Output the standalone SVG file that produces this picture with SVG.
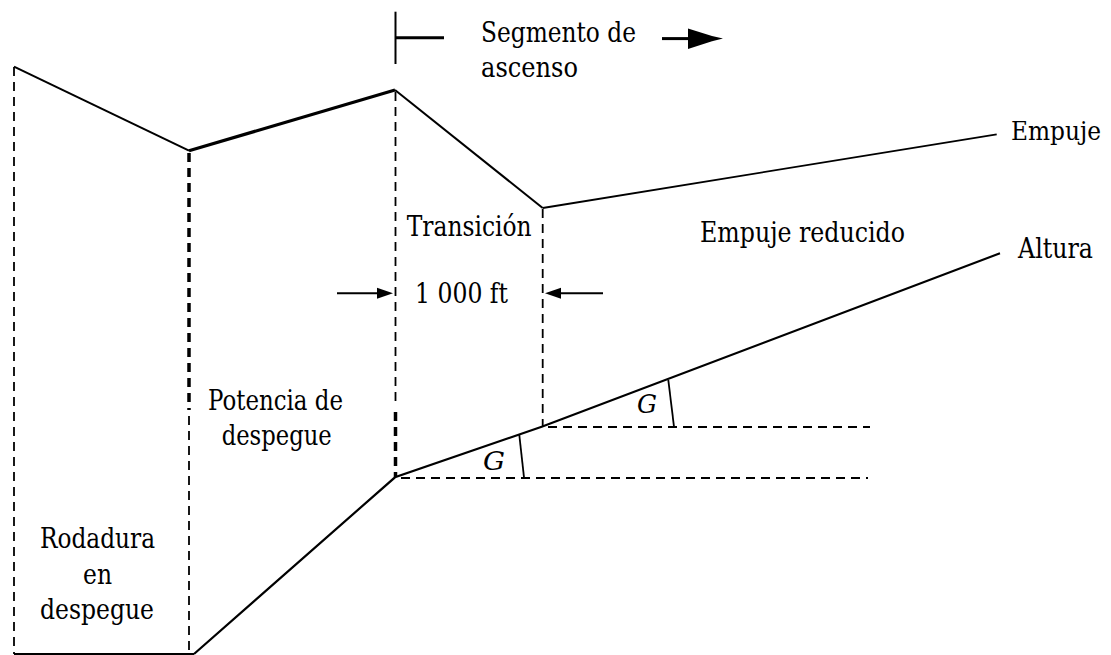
<svg xmlns="http://www.w3.org/2000/svg" width="1111" height="655" viewBox="0 0 1111 655">
<style>
  .t { font-family: 'DejaVu Serif', serif; font-size: 28px; fill: #000; }
  .g { font-style: italic; font-size: 26px; }
  .solid { fill: none; stroke: #000; stroke-linejoin: miter; stroke-linecap: butt; }
  .dash { fill: none; stroke: #000; stroke-width: 1.8; stroke-dasharray: 9 6; }
  .dashh { fill: none; stroke: #000; stroke-width: 1.8; stroke-dasharray: 9 6; }
  .dashthick { fill: none; stroke: #000; stroke-width: 3.5; stroke-dasharray: 9 6; }
</style>
<rect width="1111" height="655" fill="#fff"/>

<g id="connectors">
  <polyline class="solid" stroke-width="2" points="14,66.7 189,150.7"/>
  <polyline class="solid" stroke-width="3.2" points="189,150.7 395,90"/>
  <polyline class="solid" stroke-width="2" points="395,90 542.7,208"/>
  <polyline class="solid" stroke-width="1.8" points="542.7,208 996.7,134.3"/>
  <polyline class="solid" stroke-width="1.8" points="14,654 194,654"/>
  <polyline class="solid" stroke-width="2.2" points="194,654 395,477.3 541.7,426.7 1000,253.3"/>
  <line class="dash" x1="14" y1="67" x2="14" y2="654"/>
  <line class="dashthick" x1="189" y1="153" x2="189" y2="410"/>
  <line class="dash" x1="189" y1="416" x2="189" y2="654"/>
  <line class="dash" x1="395.5" y1="92" x2="395.5" y2="406"/>
  <line class="dashthick" x1="395.5" y1="412" x2="395.5" y2="477"/>
  <line class="dash" x1="542.7" y1="209" x2="542.7" y2="426"/>
  <line class="dashh" x1="401" y1="478" x2="868" y2="478"/>
  <line class="dashh" x1="548" y1="427" x2="870" y2="427"/>
  <line class="solid" stroke-width="1.8" x1="519.3" y1="435" x2="524" y2="477.3"/>
  <line class="solid" stroke-width="1.8" x1="668.3" y1="380" x2="674" y2="426.7"/>
  <line class="solid" stroke-width="2" x1="395.5" y1="11.7" x2="395.5" y2="64"/>
  <line class="solid" stroke-width="3" x1="395.5" y1="37.7" x2="444" y2="37.7"/>
  <line class="solid" stroke-width="3" x1="662" y1="38.6" x2="692" y2="38.6"/>
  <polygon points="688,28.5 712,36 723,38.6 712,41.2 688,49" fill="#000"/>
  <line class="solid" stroke-width="2" x1="337" y1="293.3" x2="380" y2="293.3"/>
  <polygon points="377,287.8 393,293.3 377,298.8" fill="#000"/>
  <line class="solid" stroke-width="2" x1="558" y1="293.3" x2="603" y2="293.3"/>
  <polygon points="561,287.8 545,293.3 561,298.8" fill="#000"/>
</g>

<g id="label-segmento">
  <text class="t" x="481" y="41.7" textLength="155" lengthAdjust="spacingAndGlyphs">Segmento de</text>
  <text class="t" x="481" y="77.3" textLength="97" lengthAdjust="spacingAndGlyphs">ascenso</text>
</g>
<g id="label-empuje"><text class="t" x="1011" y="140" style="font-size:26px" textLength="90" lengthAdjust="spacingAndGlyphs">Empuje</text></g>
<g id="label-altura"><text class="t" x="1018" y="258" textLength="75" lengthAdjust="spacingAndGlyphs">Altura</text></g>
<g id="label-transicion"><text class="t" x="406.7" y="235.7" textLength="125" lengthAdjust="spacingAndGlyphs">Transición</text></g>
<g id="label-empuje-reducido"><text class="t" x="700" y="241.7" textLength="205" lengthAdjust="spacingAndGlyphs">Empuje reducido</text></g>
<g id="label-1000ft"><text class="t" x="415" y="302.7" textLength="93" lengthAdjust="spacingAndGlyphs">1 000 ft</text></g>
<g id="label-potencia">
  <text class="t" x="208" y="410" textLength="135" lengthAdjust="spacingAndGlyphs">Potencia de</text>
  <text class="t" x="221.7" y="445" textLength="110" lengthAdjust="spacingAndGlyphs">despegue</text>
</g>
<g id="label-rodadura">
  <text class="t" x="40" y="548.3" textLength="115" lengthAdjust="spacingAndGlyphs">Rodadura</text>
  <text class="t" x="83" y="584" textLength="29" lengthAdjust="spacingAndGlyphs">en</text>
  <text class="t" x="40" y="619.3" textLength="114" lengthAdjust="spacingAndGlyphs">despegue</text>
</g>
<g id="label-g1"><text class="t g" x="483" y="470" textLength="22" lengthAdjust="spacingAndGlyphs">G</text></g>
<g id="label-g2"><text class="t g" x="637" y="413.3" textLength="20" lengthAdjust="spacingAndGlyphs">G</text></g>
</svg>
